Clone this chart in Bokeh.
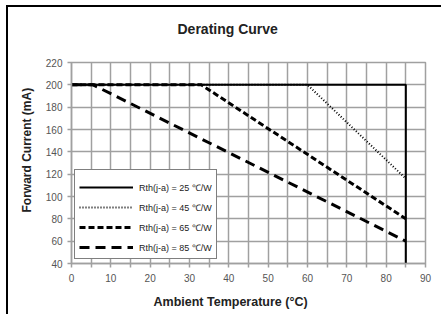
from bokeh.plotting import figure
from bokeh.models import FixedTicker, Legend, LegendItem, Title, Range1d
from bokeh.embed import file_html
from bokeh.resources import INLINE

# data
temp_25 = [0, 85, 85]
curr_25 = [200, 200, 40]
temp_45 = [0, 60, 85]
curr_45 = [200, 200, 116]
temp_65 = [0, 33, 85]
curr_65 = [200, 200, 80]
temp_85 = [0, 5.5, 85]
curr_85 = [200, 200, 60]
labels = ["Rth(j-a) = 25 \u2103/W", "Rth(j-a) = 45 \u2103/W",
          "Rth(j-a) = 65 \u2103/W", "Rth(j-a) = 85 \u2103/W"]
x_ticks = [0, 10, 20, 30, 40, 50, 60, 70, 80, 90]
y_ticks = [40, 60, 80, 100, 120, 140, 160, 180, 200, 220]

FONT = "Liberation Sans"
GRID = "#a0a0a0"

p = figure(width=435, height=309, output_backend="svg", toolbar_location=None,
           x_range=Range1d(0, 90), y_range=Range1d(40, 220),
           min_border_left=63, min_border_right=18, min_border_top=55, min_border_bottom=52,
           margin=(5, 0, 0, 6),
           styles={"border-top": "2px solid black", "border-left": "2px solid black"})
p.outline_line_color = GRID
p.outline_line_width = 1.5

p.title.text = "Derating Curve"
p.title.align = "left"
p.title.offset = 106
p.title.text_font = FONT
p.title.text_font_size = "14px"
p.title.text_font_style = "bold"
p.title.text_color = "#222222"
# blank spacer between title and plot area
p.add_layout(Title(text=" ", text_font_size="8px"), "above")

p.xaxis.ticker = FixedTicker(ticks=x_ticks, minor_ticks=[5, 15, 25, 35, 45, 55, 65, 75, 85])
p.yaxis.ticker = FixedTicker(ticks=y_ticks)
p.xgrid.ticker = FixedTicker(ticks=list(range(0, 91, 5)))
p.ygrid.ticker = FixedTicker(ticks=y_ticks)
p.grid.grid_line_color = GRID
p.grid.grid_line_width = 1.5
p.grid.grid_line_alpha = 1

for ax in (p.xaxis, p.yaxis):
    ax.axis_line_color = GRID
    ax.axis_line_width = 1.5
    ax.major_tick_line_color = GRID
    ax.major_tick_line_width = 1.5
    ax.major_tick_out = 4
    ax.major_tick_in = 0
    ax.major_label_text_font = FONT
    ax.major_label_text_font_size = "10px"
    ax.major_label_text_color = "#555555"
p.xaxis.minor_tick_line_color = GRID
p.xaxis.minor_tick_line_width = 1.5
p.xaxis.minor_tick_out = 4
p.xaxis.minor_tick_in = 0
p.yaxis.minor_tick_line_color = None
p.xaxis.major_label_standoff = 6
p.yaxis.major_label_standoff = 5

xlab = Title(text="Ambient Temperature (\u00b0C)", align="left", offset=82, standoff=16,
             text_font=FONT, text_font_size="12.5px", text_font_style="bold", text_color="#222222")
p.add_layout(xlab, "below")
ylab = Title(text="Forward Current (mA)", align="left", offset=51, standoff=18,
             text_font=FONT, text_font_size="12px", text_font_style="bold", text_color="#222222")
p.add_layout(ylab, "left")

r25 = p.line(temp_25, curr_25, line_color="black", line_width=2)
r45 = p.line(temp_45, curr_45, line_color="black", line_width=2, line_dash="1 2")
r65 = p.line(temp_65, curr_65, line_color="black", line_width=3, line_dash="6 3")
r85 = p.line(temp_85, curr_85, line_color="black", line_width=3, line_dash="10 6")

legend = Legend(items=[LegendItem(label=l, renderers=[r]) for l, r in zip(labels, [r25, r45, r65, r85])],
                location=(3, 4), orientation="vertical", title=" ")
legend.title_text_font_size = "6px"
legend.title_standoff = 0
legend.label_text_font = FONT
legend.label_text_font_size = "9px"
legend.label_text_color = "#222222"
legend.glyph_width = 54
legend.glyph_height = 14
legend.label_height = 14
legend.label_standoff = 6
legend.spacing = 6
legend.padding = 4
legend.margin = 0
legend.border_line_color = "black"
legend.border_line_width = 1
legend.background_fill_alpha = 1
p.add_layout(legend)

open("out.html", "w").write(file_html(p, INLINE))
